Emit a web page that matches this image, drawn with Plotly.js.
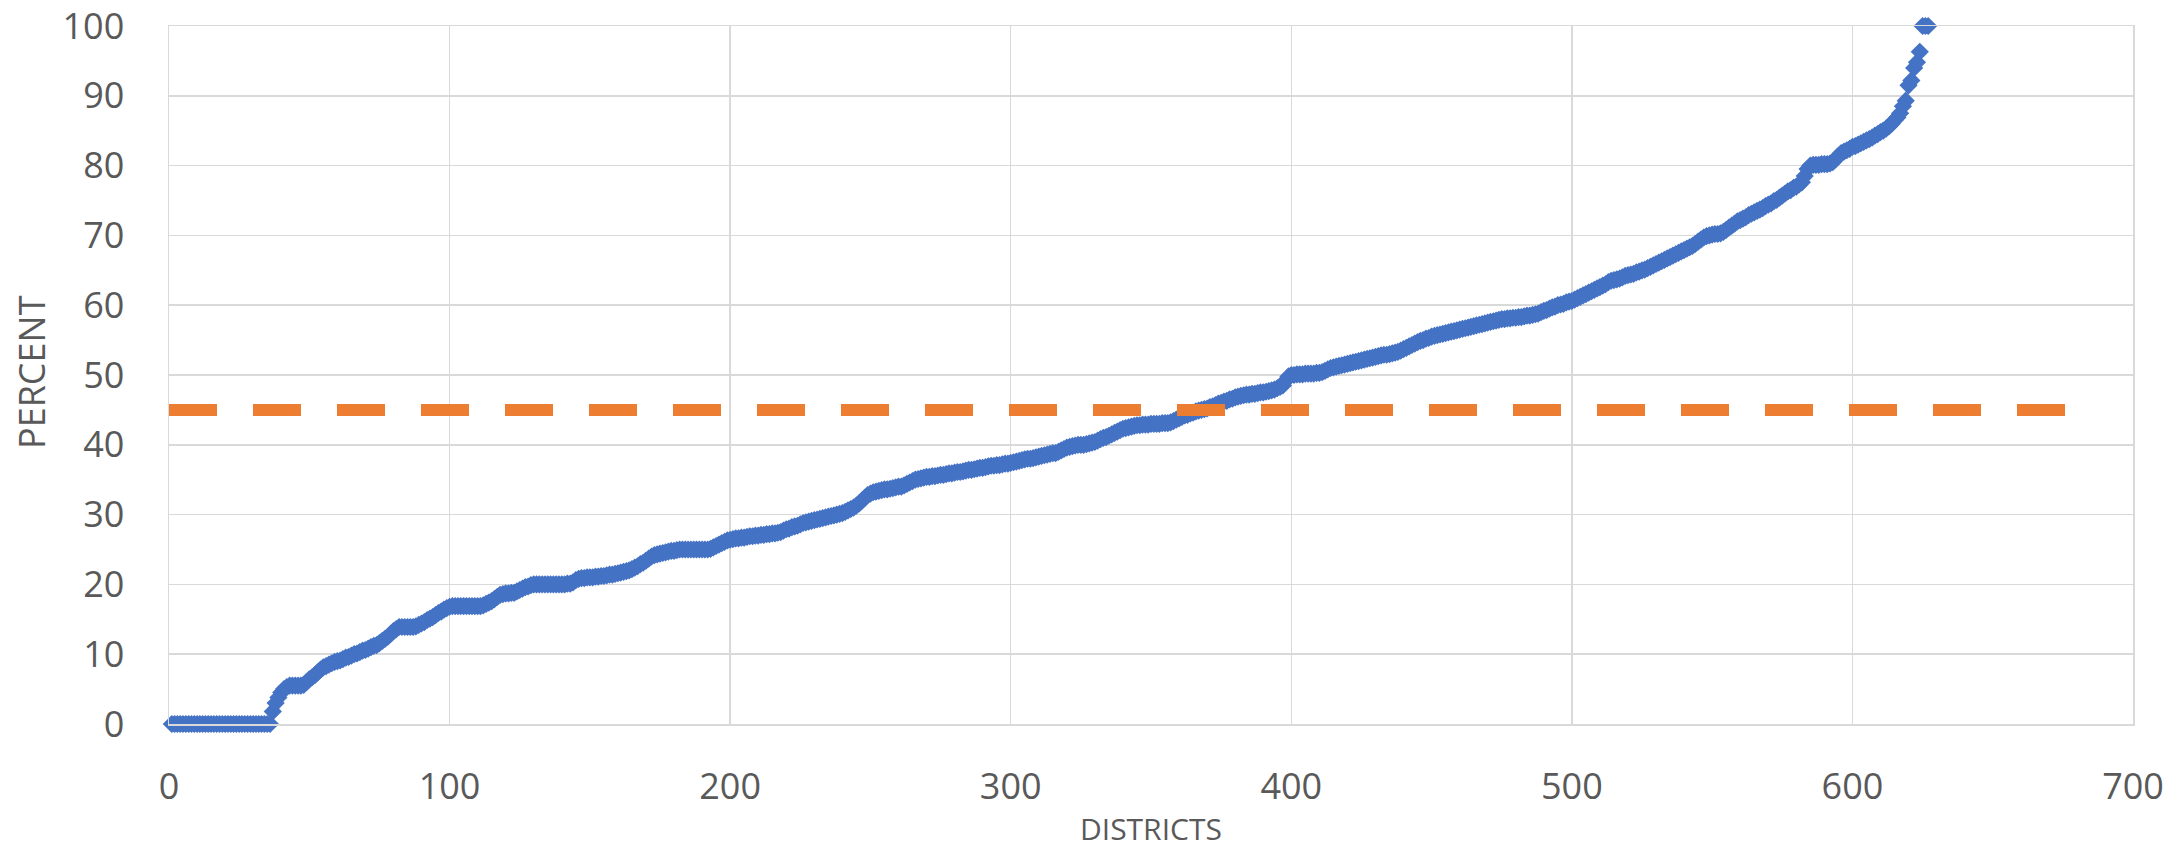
<!DOCTYPE html>
<html>
<head>
<meta charset="utf-8">
<script src="https://cdn.plot.ly/plotly-3.0.1.min.js"></script>
<style>html,body{margin:0;padding:0;background:#fff;}#chart{width:2172px;height:850px;}</style>
</head>
<body>
<div id="chart"></div>
<script>
// Percent per district, sorted ascending (district 1 .. 627)
const districtPercent = [
  0,0,0,0,0,0,0,0,0,0,
  0,0,0,0,0,0,0,0,0,0,
  0,0,0,0,0,0,0,0,0,0,
  0,0,0,0,0,0,1.8,3.0,3.8,4.5,
  5.0,5.3,5.5,5.5,5.5,5.5,5.5,5.6,6.0,6.4,
  6.7,7.0,7.4,7.8,8.1,8.3,8.5,8.7,8.9,9.0,
  9.1,9.3,9.5,9.6,9.8,10.0,10.1,10.3,10.5,10.6,
  10.8,11.0,11.2,11.3,11.6,11.9,12.2,12.5,12.9,13.3,
  13.6,13.9,13.9,13.9,13.9,13.9,13.9,14.0,14.2,14.4,
  14.6,14.9,15.1,15.3,15.6,15.9,16.1,16.4,16.6,16.8,
  16.9,16.9,16.9,16.9,16.9,16.9,16.9,16.9,16.9,16.9,
  16.9,17.0,17.2,17.4,17.6,17.9,18.2,18.5,18.6,18.7,
  18.7,18.8,18.8,19.0,19.2,19.4,19.6,19.7,19.9,20.0,
  20.0,20.0,20.0,20.0,20.0,20.0,20.0,20.0,20.0,20.0,
  20.0,20.1,20.1,20.3,20.6,20.8,20.9,20.9,21.0,21.0,
  21.0,21.1,21.1,21.2,21.2,21.3,21.4,21.4,21.5,21.6,
  21.7,21.8,21.9,22.0,22.2,22.4,22.6,22.9,23.1,23.4,
  23.7,24.0,24.2,24.3,24.4,24.5,24.6,24.7,24.8,24.8,
  24.9,25.0,25.0,25.0,25.0,25.0,25.0,25.0,25.0,25.0,
  25.0,25.0,25.1,25.3,25.5,25.7,25.9,26.1,26.3,26.4,
  26.5,26.6,26.6,26.7,26.7,26.8,26.9,26.9,27.0,27.0,
  27.1,27.1,27.2,27.2,27.3,27.3,27.4,27.5,27.7,27.9,
  28.0,28.2,28.3,28.4,28.6,28.8,28.9,29.0,29.1,29.2,
  29.3,29.4,29.5,29.6,29.7,29.8,29.9,30.0,30.1,30.2,
  30.4,30.6,30.8,31.0,31.3,31.6,32.0,32.4,32.8,33.0,
  33.2,33.3,33.4,33.5,33.6,33.6,33.7,33.8,33.9,34.0,
  34.0,34.2,34.4,34.6,34.8,35.0,35.1,35.2,35.3,35.4,
  35.4,35.5,35.5,35.6,35.7,35.7,35.8,35.9,35.9,36.0,
  36.1,36.1,36.2,36.3,36.4,36.4,36.5,36.6,36.7,36.7,
  36.8,36.9,37.0,37.0,37.1,37.1,37.2,37.3,37.3,37.4,
  37.5,37.6,37.7,37.8,37.9,38.0,38.0,38.1,38.2,38.3,
  38.4,38.5,38.6,38.7,38.8,38.8,39.0,39.2,39.4,39.6,
  39.7,39.8,39.9,40.0,40.0,40.0,40.1,40.2,40.3,40.4,
  40.6,40.8,41.0,41.1,41.3,41.5,41.7,41.9,42.1,42.3,
  42.4,42.5,42.6,42.7,42.8,42.8,42.9,42.9,42.9,43.0,
  43.0,43.0,43.0,43.1,43.1,43.1,43.2,43.4,43.6,43.8,
  44.0,44.2,44.3,44.5,44.6,44.8,44.9,45.0,45.1,45.2,
  45.4,45.5,45.7,45.9,46.0,46.2,46.3,46.5,46.6,46.8,
  46.9,47.0,47.1,47.2,47.2,47.3,47.3,47.4,47.5,47.5,
  47.6,47.7,47.8,47.9,48.1,48.3,48.5,49.2,49.8,50.0,
  50.0,50.1,50.1,50.1,50.2,50.2,50.2,50.2,50.3,50.3,
  50.4,50.6,50.8,51.0,51.1,51.2,51.3,51.4,51.5,51.6,
  51.7,51.8,51.9,52.0,52.1,52.2,52.3,52.4,52.5,52.6,
  52.7,52.8,52.9,52.9,53.0,53.1,53.2,53.3,53.5,53.7,
  53.9,54.1,54.3,54.5,54.7,54.9,55.0,55.2,55.3,55.5,
  55.6,55.7,55.8,55.9,56.0,56.1,56.2,56.3,56.4,56.5,
  56.6,56.7,56.8,56.9,57.0,57.1,57.2,57.3,57.4,57.5,
  57.6,57.7,57.8,57.9,58.0,58.0,58.1,58.1,58.2,58.2,
  58.3,58.3,58.4,58.5,58.5,58.6,58.7,58.8,59.0,59.2,
  59.3,59.5,59.7,59.8,60.0,60.1,60.2,60.4,60.5,60.6,
  60.8,61.0,61.2,61.4,61.6,61.8,62.0,62.2,62.4,62.6,
  62.8,63.0,63.3,63.5,63.6,63.7,63.8,64.0,64.2,64.3,
  64.4,64.5,64.7,64.8,65.0,65.1,65.3,65.5,65.7,65.9,
  66.1,66.3,66.5,66.7,66.9,67.1,67.3,67.5,67.7,67.9,
  68.1,68.3,68.5,68.8,69.1,69.4,69.7,69.9,70.0,70.1,
  70.2,70.2,70.3,70.5,70.8,71.1,71.4,71.7,72.0,72.2,
  72.4,72.6,72.9,73.1,73.3,73.5,73.7,73.9,74.2,74.4,
  74.6,74.9,75.1,75.4,75.7,76.0,76.3,76.5,76.8,77.0,
  77.3,77.6,78.5,79.5,80.0,80.1,80.1,80.1,80.2,80.2,
  80.2,80.3,80.5,80.9,81.4,81.8,82.0,82.2,82.4,82.7,
  82.8,83.0,83.2,83.4,83.6,83.8,84.0,84.3,84.5,84.8,
  85.0,85.3,85.6,86.0,86.5,86.9,87.5,88.5,89.3,91.5,
  92.2,94.0,94.8,96.3,100,100,100
];

// Reference line at 45 percent
const thresholdX = [0, 680];
const thresholdY = [45, 45];

// Tick values and axis titles
const xTickVals = [0, 100, 200, 300, 400, 500, 600, 700];
const yTickVals = [0, 10, 20, 30, 40, 50, 60, 70, 80, 90, 100];
const xTitle = 'DISTRICTS';
const yTitle = 'PERCENT';

const districtNumbers = districtPercent.map((_, i) => i + 1);

const textColor = '#595959';
const gridColor = '#d9d9d9';
const fontFamily = 'Open Sans, sans-serif';

const traces = [
  {
    type: 'scatter',
    mode: 'markers',
    x: districtNumbers,
    y: districtPercent,
    cliponaxis: false,
    marker: { symbol: 'diamond', size: 14, color: '#4472C4', line: { width: 0 } },
    hoverinfo: 'x+y'
  },
  {
    type: 'scatter',
    mode: 'lines',
    x: thresholdX,
    y: thresholdY,
    cliponaxis: false,
    line: { color: '#ED7D31', width: 12, dash: '48px,36px' },
    hoverinfo: 'skip'
  }
];

const axisCommon = {
  tickmode: 'array',
  showgrid: true,
  gridcolor: gridColor,
  gridwidth: 1.5,
  zeroline: false,
  showline: true,
  mirror: true,
  linecolor: gridColor,
  linewidth: 1.5,
  ticks: '',
  tickfont: { family: fontFamily, size: 36, color: textColor }
};

const layout = {
  width: 2172,
  height: 850,
  margin: { l: 169, r: 39, t: 26, b: 126 },
  paper_bgcolor: '#ffffff',
  plot_bgcolor: '#ffffff',
  showlegend: false,
  font: { family: fontFamily, color: textColor },
  xaxis: Object.assign({}, axisCommon, {
    range: [0, 700],
    tickvals: xTickVals,
    ticktext: xTickVals.map(String),
    ticklabelstandoff: 30
  }),
  yaxis: Object.assign({}, axisCommon, {
    range: [0, 100],
    tickvals: yTickVals,
    ticktext: yTickVals.map(String),
    ticklabelstandoff: 36
  }),
  annotations: [
    {
      text: xTitle, xref: 'paper', yref: 'paper', x: 0.5, y: -0.1490,
      xanchor: 'center', yanchor: 'middle', showarrow: false,
      font: { family: fontFamily, size: 30, color: textColor }
    },
    {
      text: yTitle, xref: 'paper', yref: 'paper', x: -0.070, y: 0.5036,
      xanchor: 'center', yanchor: 'middle', showarrow: false, textangle: -90,
      font: { family: fontFamily, size: 36, color: textColor }
    }
  ]
};

Plotly.newPlot('chart', traces, layout, { displayModeBar: false, staticPlot: true });
</script>
</body>
</html>
